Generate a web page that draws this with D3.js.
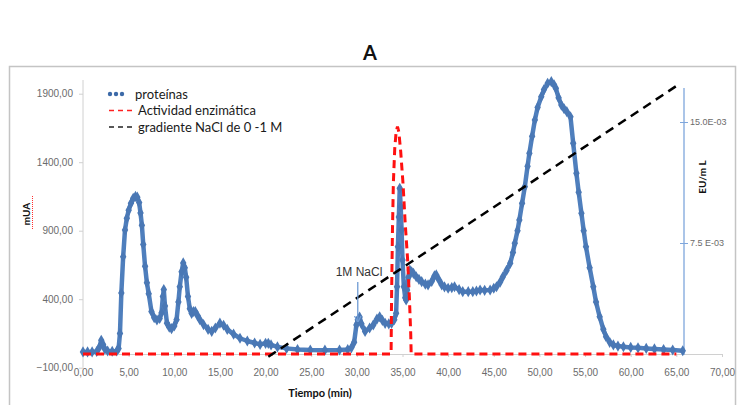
<!DOCTYPE html>
<html>
<head>
<meta charset="utf-8">
<script src="https://cdn.jsdelivr.net/npm/d3@7"></script>
<style>
body{margin:0;background:#fff;}
svg{display:block;font-family:Lato,"Open Sans",sans-serif;}
</style>
</head>
<body>
<div id="main"></div>
<script>
var protTime=[0,0.5,1,1.5,1.8,2,2.2,2.4,2.7,3.2,3.7,3.9,4.05,4.2,4.4,4.6,4.8,5,5.25,5.5,5.75,5.95,6.15,6.3,6.45,6.6,6.8,7,7.2,7.5,7.8,8.1,8.4,8.6,8.75,8.85,8.98,9.2,9.45,9.7,10,10.25,10.45,10.6,10.8,10.98,11.15,11.3,11.5,11.7,11.9,12.1,12.3,12.55,12.8,13.2,13.7,14.1,14.5,15,15.4,15.8,16.5,17.2,18,18.8,19.4,20,20.3,20.6,21.3,22.3,23.5,24.9,26.5,28.1,29,29.4,29.7,29.95,30.1,30.3,30.5,30.9,31.4,31.8,32.2,32.5,32.8,33.1,33.5,33.8,34.1,34.3,34.4,34.5,34.6,34.7,34.8,34.9,35,35.15,35.3,35.4,35.5,35.65,35.8,36,36.2,36.5,36.8,37.1,37.5,37.8,38.2,38.5,38.7,39,39.3,39.6,40,40.4,40.7,41.2,41.6,42.2,42.7,43.1,43.5,44,44.6,45,45.3,45.7,46,46.4,46.8,47.1,47.3,47.6,47.8,48.1,48.4,48.7,48.9,49.2,49.5,49.8,50.2,50.5,50.9,51.3,51.6,51.8,52.1,52.4,52.7,53,53.4,53.7,54.05,54.3,54.6,54.85,55.1,55.5,55.9,56.2,56.6,57,57.3,57.7,58.1,58.6,59.2,60,60.8,61.7,62.6,63.6,64.6,65.7];
var protVal=[15,15,15,18,50,100,70,35,22,20,22,40,150,445,710,905,990,1050,1100,1136,1150,1145,1105,1030,940,800,640,520,440,310,265,248,260,300,420,470,350,225,195,185,205,250,380,490,600,665,630,560,420,330,297,310,310,280,250,215,180,165,190,225,210,180,145,115,95,80,70,78,78,66,52,41,33,29,28,29,33,45,85,212,250,270,220,165,190,212,255,272,245,224,220,224,250,297,491,783,1000,1209,1075,905,686,491,410,394,467,560,613,600,589,564,545,528,510,504,530,570,577,540,504,490,480,485,491,470,455,455,455,460,467,465,467,480,491,525,564,610,662,740,808,900,978,1100,1221,1370,1465,1590,1708,1800,1878,1930,1976,1988,1965,1939,1870,1817,1790,1769,1732,1538,1319,1180,1027,900,783,630,491,380,272,180,126,85,66,58,53,48,45,41,37,33,29,24];
// actividad enzimatica
var actTime=[0,33.75,33.8,33.9,34,34.15,34.3,34.45,34.6,34.8,35.05,35.3,35.55,35.75,35.9,35.95,65];
var actVal=[0,0,400,900,1250,1500,1620,1660,1620,1480,1250,950,700,420,150,0,0];
// gradiente NaCl 0 - 1 M
var gradTime=[20.3,65.2];
var gradVal=[-20,1965];

var yTicks=[-100,400,900,1400,1900];
var xTicks=[0,5,10,15,20,25,30,35,40,45,50,55,60,65,70];
var rTicks=[7.5,15];
var rLabels=["7.5 E-03","15.0E-03"];
var legendNames=["proteínas","Actividad enzimática","gradiente NaCl de 0 -1 M"];

var width=740,height=405;
var svg=d3.select("#main").append("svg").attr("width",width).attr("height",height);

svg.append("text").attr("x",370).attr("y",60).attr("text-anchor","middle")
	.attr("font-size",20).attr("font-weight","bold").attr("fill","#111").text("A");

//marco
svg.append("rect").attr("x",9.5).attr("y",66.5).attr("width",726).attr("height",360)
	.attr("fill","none").attr("stroke","#c4c4c4").attr("stroke-width",1.5);

var x=d3.scaleLinear().domain([0,70]).range([83,722]);
var y=d3.scaleLinear().domain([-100,2000]).range([367.7,80]);
var yr=d3.scaleLinear().domain([7.5,15]).range([243,122]);

var fmt=function(v){return d3.format(".2f")(v).replace(".",",");};

//eje y
var gy=svg.append("g").attr("transform","translate(83,0)")
	.call(d3.axisLeft(y).tickValues(yTicks).tickFormat(fmt).tickSize(4).tickPadding(6));
gy.select(".domain").attr("stroke","#d0d0d0").attr("d","M0,80V367.7");
gy.selectAll(".tick line").attr("stroke","#d0d0d0");
gy.selectAll("text").attr("fill","#6b6b6b").attr("font-size",10);

//eje x
var gx=svg.append("g").attr("transform","translate(0,"+y(0)+")")
	.call(d3.axisBottom(x).tickValues(xTicks).tickFormat(fmt).tickSize(3).tickPadding(0));
gx.select(".domain").attr("stroke","#d0d0d0");
gx.selectAll(".tick line").attr("stroke","#d0d0d0");
gx.selectAll("text").attr("fill","#6b6b6b").attr("font-size",10).attr("dy","1.9em");

//eje derecho
var gr=svg.append("g").attr("transform","translate(684,0)")
	.call(d3.axisRight(yr).tickValues(rTicks).tickFormat(function(d,i){return rLabels[i];}).tickSize(4).tickPadding(2));
gr.select(".domain").attr("stroke","#7ea6dc").attr("stroke-width",1.3).attr("d","M0,88V355");
gr.selectAll(".tick line").attr("stroke","#7ea6dc").attr("x1",-4);
gr.selectAll("text").attr("fill","#6b6b6b").attr("font-size",9);

var line=d3.line().x(function(d){return x(d[0]);}).y(function(d){return y(d[1]);});
var protData=protTime.map(function(t,i){return [t,protVal[i]];});
var actData=actTime.map(function(t,i){return [t,actVal[i]];});
var gradData=gradTime.map(function(t,i){return [t,gradVal[i]];});

svg.append("path").datum(protData).attr("d",line).attr("fill","none")
	.attr("stroke","#4f7fbd").attr("stroke-width",4.5).attr("stroke-linejoin","round").attr("stroke-linecap","round");
svg.append("g").selectAll("path").data(protData).enter().append("path")
	.attr("d",d3.symbol().type(d3.symbolDiamond).size(36))
	.attr("transform",function(d){return "translate("+x(d[0])+","+y(d[1])+")";})
	.attr("fill","#4a78b5");

svg.append("path").datum(actData).attr("d",line).attr("fill","none")
	.attr("stroke","#ff1010").attr("stroke-width",3).attr("stroke-dasharray","8,5");

svg.append("path").datum(gradData).attr("d",line).attr("fill","none")
	.attr("stroke","#000").attr("stroke-width",2.5).attr("stroke-dasharray","9,6");

//anotacion 1M NaCl
svg.append("defs").append("marker").attr("id","arrow").attr("viewBox","0 0 10 10")
	.attr("refX",9).attr("refY",5).attr("markerWidth",5).attr("markerHeight",6).attr("orient","auto")
	.append("path").attr("d","M0,0L10,5L0,10").attr("fill","none").attr("stroke","#6f9bd3").attr("stroke-width",2);
svg.append("line").attr("x1",x(30.1)).attr("x2",x(30.1)).attr("y1",282).attr("y2",y(235))
	.attr("stroke","#6f9bd3").attr("stroke-width",1.3).attr("marker-end","url(#arrow)");
svg.append("text").attr("x",359).attr("y",276).attr("text-anchor","middle")
	.attr("font-family","'Liberation Sans Narrow',Arial,sans-serif").attr("font-size",12).attr("fill","#333").text("1M NaCl");

//leyenda
var leg=svg.append("g");
[0,1,2].forEach(function(i){
	var ly=94+i*16.5;
	if(i==0){
		[110,116,122].forEach(function(cx){
			leg.append("circle").attr("cx",cx).attr("cy",ly).attr("r",2.2).attr("fill","#3c6aa8");
		});
	}else{
		leg.append("line").attr("x1",109).attr("x2",132).attr("y1",ly).attr("y2",ly)
			.attr("stroke",i==1?"#ff2020":"#222").attr("stroke-width",1.6).attr("stroke-dasharray","5,4");
	}
	leg.append("text").attr("x",i==0?135:138).attr("y",ly+4.5).attr("font-size",13)
		.attr("fill","#1a1a1a").text(legendNames[i]);
});

//titulos de ejes
svg.append("text").attr("transform","translate(30,214) rotate(-90)").attr("text-anchor","middle")
	.attr("font-size",10).attr("font-weight","bold").attr("fill","#111").text("mUA");
svg.append("line").attr("x1",32.5).attr("x2",32.5).attr("y1",196).attr("y2",230)
	.attr("stroke","#ff3030").attr("stroke-width",1).attr("stroke-dasharray","1,1");
svg.append("text").attr("x",320).attr("y",397).attr("text-anchor","middle")
	.attr("font-size",11).attr("font-weight","bold").attr("fill","#111").text("Tiempo (min)");
svg.append("text").attr("transform","translate(706,177) rotate(-90)").attr("text-anchor","middle")
	.attr("font-size",10).attr("font-weight","bold").attr("fill","#111").text("EU/m L");
</script>
</body>
</html>
